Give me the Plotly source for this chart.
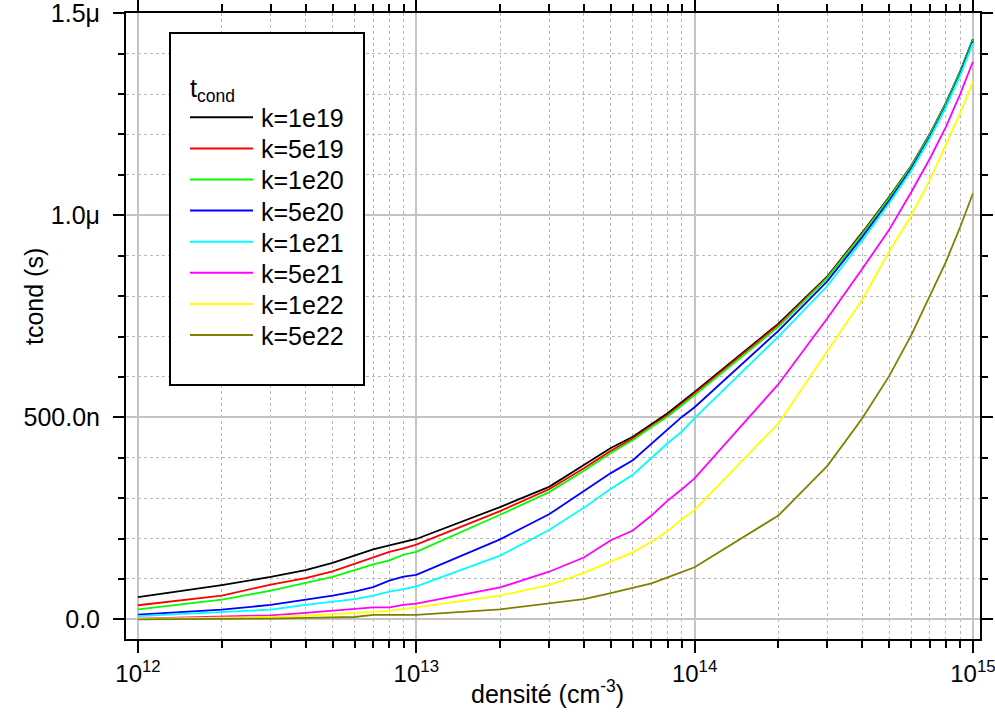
import plotly.graph_objects as go

# ---------------- data ----------------
densite = [1e12, 2e12, 3e12, 4e12, 5e12, 6e12, 7e12, 8e12, 9e12,
           1e13, 2e13, 3e13, 4e13, 5e13, 6e13, 7e13, 8e13, 9e13,
           1e14, 2e14, 3e14, 4e14, 5e14, 6e14, 7e14, 8e14, 9e14, 1e15]

# t_cond values in ns
k_1e19 = [55, 85, 105, 122, 140, 158, 173, 183, 192, 199, 278, 328, 382, 424, 452, 484, 510, 538,
          563, 732, 849, 957, 1045, 1122, 1201, 1278, 1356, 1436]
k_5e19 = [35, 59, 86, 102, 119, 138, 153, 167, 176, 185, 268, 322, 374, 417, 448, 480, 506, 534,
          559, 729, 847, 955, 1043, 1121, 1200, 1277, 1355, 1435]
k_1e20 = [25, 49, 71, 90, 105, 122, 136, 146, 160, 167, 259, 315, 368, 412, 444, 476, 502, 530,
          555, 724, 845, 953, 1042, 1120, 1199, 1276, 1355, 1435]
k_5e20 = [12, 24, 36, 48, 59, 69, 80, 96, 106, 110, 198, 260, 317, 362, 394, 435, 470, 501,
          525, 714, 837, 946, 1036, 1115, 1194, 1271, 1350, 1430]
k_1e21 = [8, 18, 24, 36, 44, 50, 59, 69, 75, 82, 158, 221, 276, 323, 358, 400, 436, 465,
          498, 700, 825, 938, 1030, 1110, 1190, 1268, 1346, 1426]
k_5e21 = [2, 6, 10, 16, 21, 25, 30, 30, 36, 39, 79, 118, 153, 196, 220, 257, 294, 322,
          349, 582, 745, 867, 964, 1057, 1140, 1219, 1300, 1380]
k_1e22 = [1, 4, 6, 9, 13, 17, 20, 21, 26, 30, 59, 85, 115, 143, 166, 192, 218, 248,
          271, 485, 664, 791, 910, 999, 1087, 1176, 1253, 1331]
k_5e22 = [0, 1, 2, 4, 5, 6, 11, 11, 11, 11, 25, 39, 50, 65, 77, 89, 104, 118,
          129, 257, 380, 497, 602, 703, 799, 885, 971, 1054]

series_names = ["k=1e19", "k=5e19", "k=1e20", "k=5e20", "k=1e21", "k=5e21", "k=1e22", "k=5e22"]
series_values = [k_1e19, k_5e19, k_1e20, k_5e20, k_1e21, k_5e21, k_1e22, k_5e22]
series_colors = ["#000000", "#FF0000", "#00FF00", "#0000FF", "#00FFFF", "#FF00FF", "#FFFF00", "#808000"]

x_tickvals = [1e12, 1e13, 1e14, 1e15]
x_ticktext = ["10<sup>12</sup>", "10<sup>13</sup>", "10<sup>14</sup>", "10<sup>15</sup>"]
y_tickvals = [0, 500e-9, 1e-6, 1.5e-6]
y_ticktext = ["0.0", "500.0n", "1.0μ", "1.5μ"]

# ---------------- layout geometry (pixels) ----------------
W, H = 995, 718
PL, PR, PT, PB = 126, 980, 13, 639   # plot area edges in px
FONT = "Liberation Sans, Arial, sans-serif"
FS = 25

def px(x):
    return (x - PL) / (PR - PL)

def py(y):
    return (PB - y) / (PB - PT)

fig = go.Figure()
for name, vals, col in zip(series_names, series_values, series_colors):
    fig.add_trace(go.Scatter(
        x=densite, y=[v * 1e-9 for v in vals], name=name, mode="lines",
        line=dict(color=col, width=1.8), showlegend=False))

axis_common = dict(
    showline=True, linecolor="black", linewidth=2, mirror="allticks",
    ticks="outside", tickcolor="black", tickwidth=2,
    showgrid=True, gridcolor="#C4C4C4", gridwidth=1.5,
    zeroline=False, automargin=False, ticklabeloverflow="allow",
)

fig.update_xaxes(
    type="log", range=[11.9569, 15.0255],
    tickvals=x_tickvals, ticktext=x_ticktext, ticklen=12,
    tickfont=dict(family=FONT, size=24, color="black"),
    minor=dict(ticks="outside", ticklen=7, tickwidth=1.5, tickcolor="black",
               dtick="D1", showgrid=True, gridcolor="#B8B8B8", griddash="dot", gridwidth=1),
    **axis_common)
fig.update_yaxes(
    range=[-48.5e-9, 1.5006e-6],
    tickvals=y_tickvals, ticktext=y_ticktext, ticklen=11, ticklabelstandoff=8,
    tickfont=dict(family=FONT, size=FS, color="black"),
    minor=dict(ticks="outside", ticklen=6, tickwidth=1.5, tickcolor="black",
               dtick=100e-9, showgrid=True, gridcolor="#B8B8B8", griddash="dot", gridwidth=1),
    **axis_common)

shapes = []
annotations = []

# legend box
LX0, LX1, LY0, LY1 = 170, 364, 33, 385
shapes.append(dict(type="rect", xref="paper", yref="paper",
                   x0=px(LX0), x1=px(LX1), y0=py(LY1), y1=py(LY0),
                   line=dict(color="black", width=2), fillcolor="white", layer="above"))
annotations.append(dict(xref="paper", yref="paper", x=px(188), y=py(90),
                        xanchor="left", yanchor="middle", showarrow=False,
                        text="t<sub>cond</sub>", font=dict(family=FONT, size=FS, color="black")))
row0, drow = 117.3, 31.1
for i, (name, col) in enumerate(zip(series_names, series_colors)):
    yy = row0 + drow * i
    shapes.append(dict(type="line", xref="paper", yref="paper",
                       x0=px(190), x1=px(253), y0=py(yy), y1=py(yy),
                       line=dict(color=col, width=2), layer="above"))
    annotations.append(dict(xref="paper", yref="paper", x=px(259), y=py(yy + 1),
                            xanchor="left", yanchor="middle", showarrow=False,
                            text=name, font=dict(family=FONT, size=FS, color="black")))

# axis titles
annotations.append(dict(xref="paper", yref="paper", x=px(547), y=py(692),
                        xanchor="center", yanchor="middle", showarrow=False,
                        text="densité (cm<sup>-3</sup>)", font=dict(family=FONT, size=FS, color="black")))
annotations.append(dict(xref="paper", yref="paper", x=px(34), y=py(297),
                        xanchor="center", yanchor="middle", showarrow=False, textangle=-90,
                        text="tcond (s)", font=dict(family=FONT, size=FS, color="black")))

fig.update_layout(
    width=W, height=H,
    margin=dict(l=PL, r=W - PR, t=PT, b=H - PB, pad=0, autoexpand=False),
    paper_bgcolor="white", plot_bgcolor="white",
    shapes=shapes, annotations=annotations,
    font=dict(family=FONT, size=FS, color="black"),
    showlegend=False,
)

fig.write_html("out.html", config={"displayModeBar": False},
               post_script="document.body.style.margin='0';document.body.style.overflow='hidden';")
